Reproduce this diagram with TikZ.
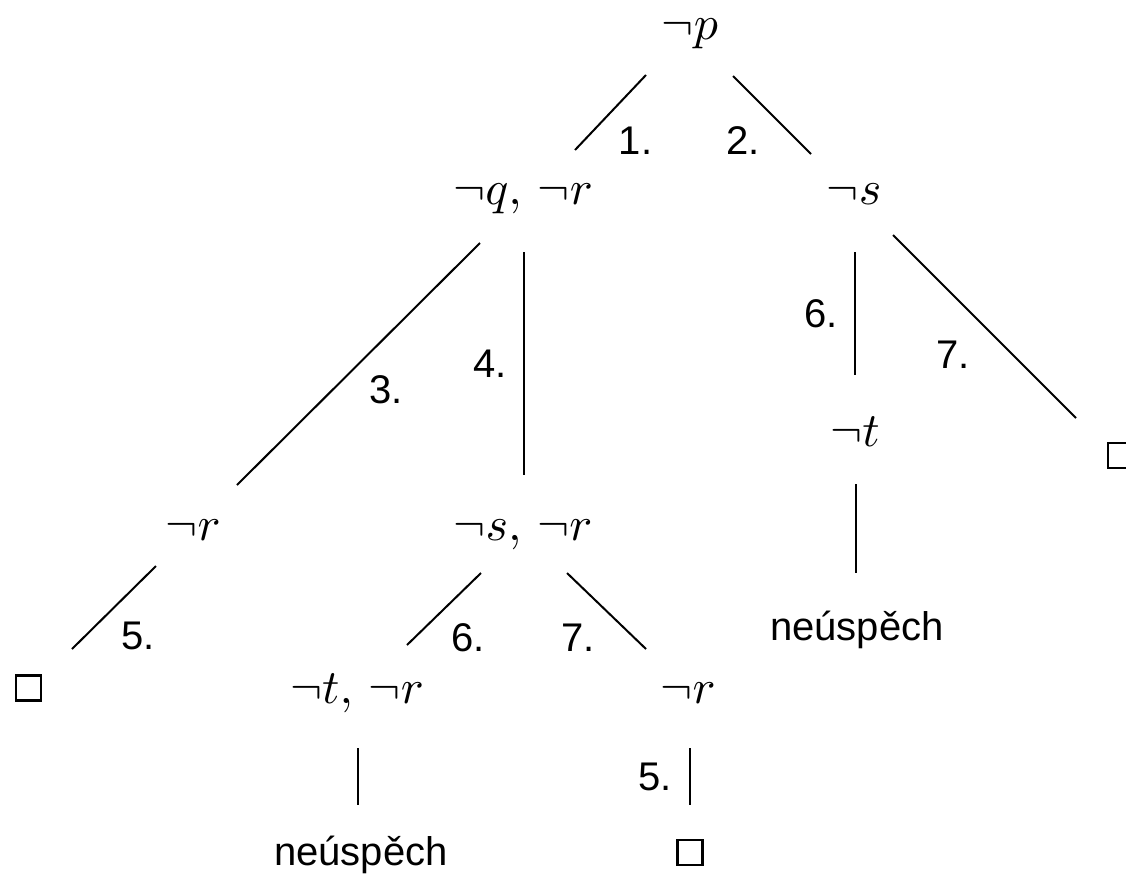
\documentclass[tikz,border=0pt]{standalone}
\usepackage{fontspec}
\newfontfamily\helv{Liberation Sans}
\newcommand\bigmath[1]{\scalebox{4.8}{$#1$}}
\begin{document}
\begin{tikzpicture}[x=1pt,y=-1pt,
  mth/.style={anchor=base, inner sep=0pt, font=\normalsize},
  lbl/.style={anchor=base, inner sep=0pt, font=\helv\fontsize{40}{48}\selectfont},
  edge/.style={line width=2pt},
  qedbox/.style={draw, line width=2.5pt, minimum size=25pt, inner sep=0pt}]
\useasboundingbox (0,0) rectangle (1126,879);

% tree nodes
\node[mth] (p)   at (690,39)  {\bigmath{\neg p}};
\node[mth] (qr)  at (523,204) {\bigmath{\neg q,\,\neg r}};
\node[mth] (s)   at (854,204) {\bigmath{\neg s}};
\node[mth] (r1)  at (193,540) {\bigmath{\neg r}};
\node[mth] (sr)  at (523,540) {\bigmath{\neg s,\,\neg r}};
\node[mth] (t)   at (855,446) {\bigmath{\neg t}};
\node[mth] (tr)  at (357,703) {\bigmath{\neg t,\,\neg r}};
\node[mth] (r2)  at (688,703) {\bigmath{\neg r}};
\node[lbl] (f1)  at (857,640) {neúspěch};
\node[lbl] (f2)  at (361,865) {neúspěch};
\node[qedbox] (b1) at (28.5,688) {};
\node[qedbox] (b2) at (690,852.5) {};
\node[qedbox] (b3) at (1120.5,455.5) {};

% connector end points
\coordinate (p-sw)  at (646,75);  \coordinate (qr-ne) at (575,150);
\coordinate (p-se)  at (733,76);  \coordinate (s-nw)  at (811,154);
\coordinate (qr-sw) at (480,243); \coordinate (r1-ne) at (237,485);
\coordinate (qr-s)  at (524,252); \coordinate (sr-n)  at (524,475);
\coordinate (r1-sw) at (156,566); \coordinate (b1-ne) at (72,649);
\coordinate (sr-sw) at (481,573); \coordinate (tr-ne) at (407,645);
\coordinate (sr-se) at (567,573); \coordinate (r2-nw) at (646,649);
\coordinate (s-s)   at (855,252); \coordinate (t-n)   at (855,375);
\coordinate (s-se)  at (893,235); \coordinate (b3-nw) at (1076,418);
\coordinate (t-s)   at (856,484); \coordinate (f1-n)  at (856,573);
\coordinate (tr-s)  at (358,748); \coordinate (f2-n)  at (358,805);
\coordinate (r2-s)  at (690,748); \coordinate (b2-n)  at (690,805);

% connectors
\draw[edge] (p-sw) -- (qr-ne);
\draw[edge] (p-se) -- (s-nw);
\draw[edge] (qr-sw) -- (r1-ne);
\draw[edge] (qr-s) -- (sr-n);
\draw[edge] (r1-sw) -- (b1-ne);
\draw[edge] (sr-sw) -- (tr-ne);
\draw[edge] (sr-se) -- (r2-nw);
\draw[edge] (s-s) -- (t-n);
\draw[edge] (s-se) -- (b3-nw);
\draw[edge] (t-s) -- (f1-n);
\draw[edge] (tr-s) -- (f2-n);
\draw[edge] (r2-s) -- (b2-n);

% labels
\node[lbl] (l1)  at (635.5,154) {1.};
\node[lbl] (l2)  at (743,154)   {2.};
\node[lbl] (l3)  at (386,403)   {3.};
\node[lbl] (l4)  at (490,377)   {4.};
\node[lbl] (l5a) at (138,649)   {5.};
\node[lbl] (l6a) at (468,651)   {6.};
\node[lbl] (l7a) at (578,651)   {7.};
\node[lbl] (l6b) at (821,327)   {6.};
\node[lbl] (l7b) at (953,368)   {7.};
\node[lbl] (l5b) at (655,790)   {5.};
\end{tikzpicture}
\end{document}
